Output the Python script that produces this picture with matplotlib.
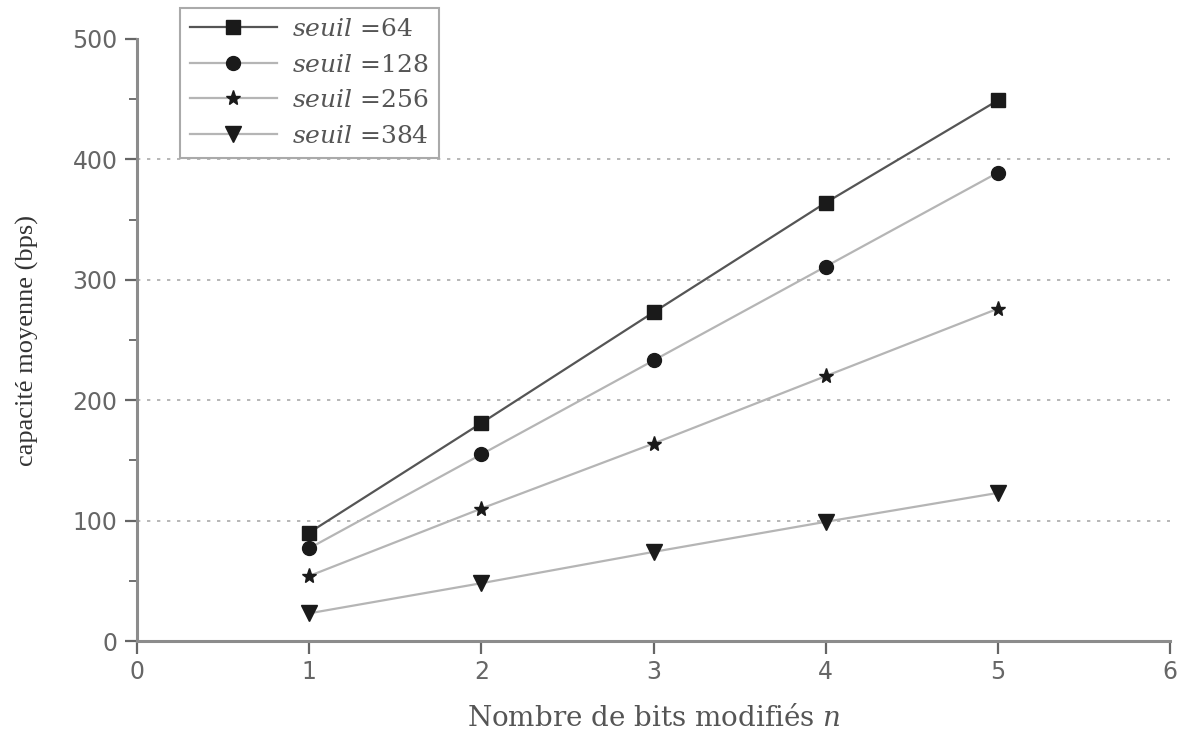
import numpy as np
import matplotlib.pyplot as plt
from matplotlib.ticker import MultipleLocator

plt.rcParams['mathtext.fontset'] = 'dejavuserif'

# capacite moyenne selon le nombre de bits modifies
n_bits = [1, 2, 3, 4, 5]
seuils = [64, 128, 256, 384]
cap_64 = [90, 181, 273, 364, 449]
cap_128 = [77, 155, 233, 311, 389]
cap_256 = [54, 110, 164, 220, 276]
cap_384 = [23, 48, 74, 99, 123]

series = [cap_64, cap_128, cap_256, cap_384]
markers = ['s', 'o', '*', 'v']
msizes = [10, 10, 11, 11]
line_colors = ['#555555', '#b5b5b5', '#b5b5b5', '#b5b5b5']

fig = plt.figure(figsize=(11.81, 7.33), dpi=100)
ax = fig.add_axes([0.116, 0.1255, 0.8747, 0.8213])

for s, vals, mk, ms, lc in zip(seuils, series, markers, msizes, line_colors):
    ax.plot(n_bits, vals, color=lc, lw=1.6, marker=mk, markersize=ms,
            markerfacecolor='#1a1a1a', markeredgecolor='#1a1a1a',
            label=r'$\it{seuil}$ =' + str(s))

ax.set_xlim(0, 6)
ax.set_ylim(0, 500)
ax.xaxis.set_major_locator(MultipleLocator(1))
ax.yaxis.set_major_locator(MultipleLocator(100))
ax.yaxis.set_minor_locator(MultipleLocator(50))

for y in [100, 200, 300, 400]:
    ax.axhline(y, color='#aaaaaa', lw=1.2, ls=(0, (2, 4)), zorder=0)

for side in ['top', 'right']:
    ax.spines[side].set_visible(False)
for side in ['left', 'bottom']:
    ax.spines[side].set_color('#8c8c8c')
    ax.spines[side].set_linewidth(2.2)

ax.tick_params(axis='both', which='major', direction='out', length=9, width=1.6,
               color='#666666', labelsize=17, labelcolor='#666666', pad=5)
ax.tick_params(axis='y', which='minor', direction='out', length=6, width=1.3,
               color='#666666')

ax.set_xlabel(r'Nombre de bits modifiés $\it{n}$', family='DejaVu Serif',
              fontsize=20, color='#555555', labelpad=15)
ax.set_ylabel('capacité moyenne (bps)', family='Liberation Serif',
              fontsize=19, color='#333333', labelpad=24)

leg = ax.legend(loc='upper left', bbox_to_anchor=(0.152, 0.989),
                bbox_transform=fig.transFigure, borderaxespad=0,
                prop={'family': 'DejaVu Serif', 'size': 18},
                handlelength=3.5, handletextpad=0.6, labelspacing=0.5,
                borderpad=0.4, fancybox=False, framealpha=1,
                edgecolor='#aaaaaa')
leg.get_frame().set_linewidth(1.5)
for t in leg.get_texts():
    t.set_color('#555555')

plt.savefig('out.png', dpi=100)
